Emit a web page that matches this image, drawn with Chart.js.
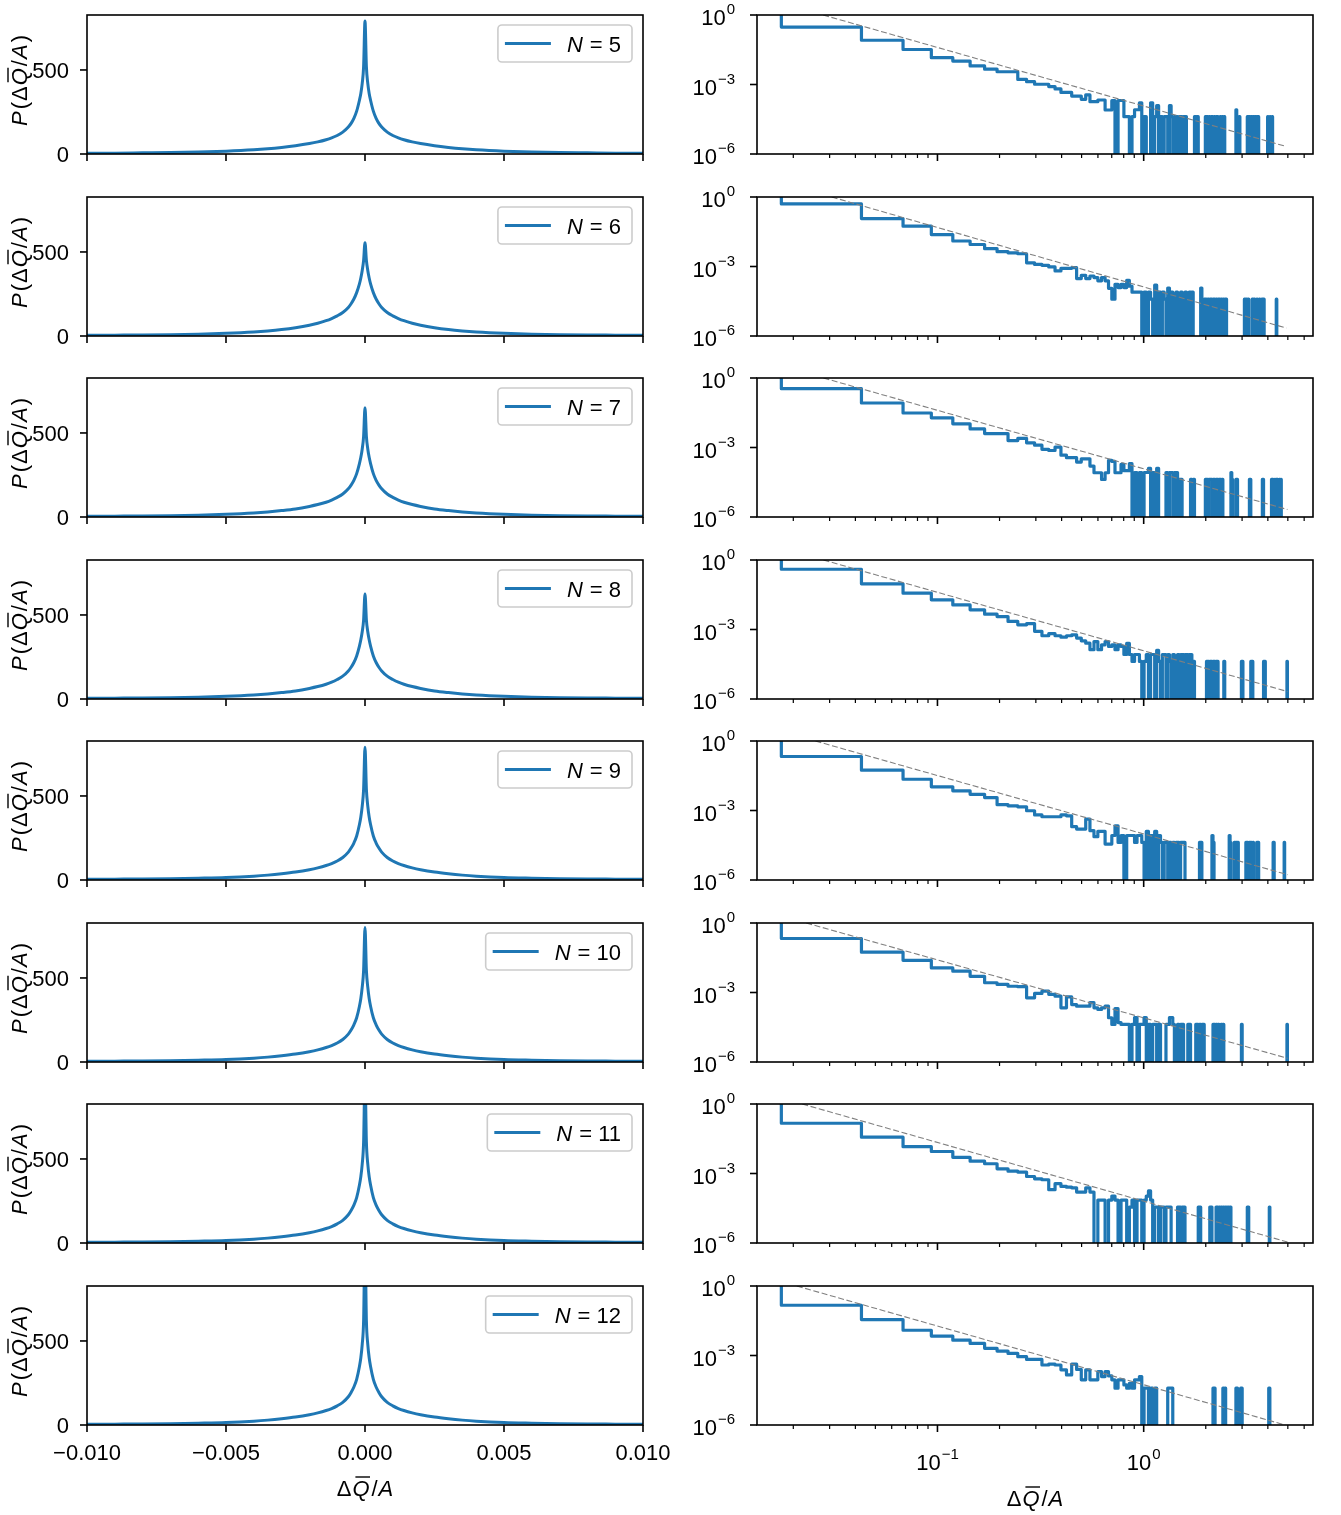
<!DOCTYPE html>
<html><head><meta charset="utf-8">
<script src="https://cdn.jsdelivr.net/npm/chart.js@4.4.1/dist/chart.umd.min.js"></script>
<style>
html,body{margin:0;padding:0;background:#fff;}
#wrap{position:relative;width:1341px;height:1515px;overflow:hidden;background:#fff;}
#wrap canvas{position:absolute;}
</style></head><body><div id="wrap"></div>
<script>
// ---------------- DATA ----------------
const nValues = [5, 6, 7, 8, 9, 10, 11, 12];

// left column: x positions of the sampled density curve
const densX = [-0.010,-0.009,-0.008,-0.007,-0.006,-0.005,-0.004,-0.0035,-0.003,-0.0025,-0.002,-0.0017,-0.0014,-0.0012,-0.001,-0.0008,-0.0006,-0.0005,-0.0004,-0.0003,-0.0002,-0.00015,-0.0001,-0.00005,0,
  0.00005,0.0001,0.00015,0.0002,0.0003,0.0004,0.0005,0.0006,0.0008,0.001,0.0012,0.0014,0.0017,0.002,0.0025,0.003,0.0035,0.004,0.005,0.006,0.007,0.008,0.009,0.010];
const densN5  = [4,5,7,9,12,17,25,31,39,49,62,72,85,96,110,130,160,182,212,255,320,360,420,520,792,520,420,360,320,255,212,182,160,130,110,96,85,72,62,49,39,31,25,17,12,9,7,5,4];
const densN6  = [4,5,6,8,11,16,24,30,38,49,64,76,91,104,120,140,170,192,220,258,310,345,390,450,555,450,390,345,310,258,220,192,170,140,120,104,91,76,64,49,38,30,24,16,11,8,6,5,4];
const densN7  = [4,5,6,8,11,16,24,30,38,48,63,74,88,101,117,137,168,190,218,258,318,355,405,480,650,480,405,355,318,258,218,190,168,137,117,101,88,74,63,48,38,30,24,16,11,8,6,5,4];
const densN8  = [4,5,6,8,11,16,24,30,38,48,63,74,88,100,116,136,167,189,217,256,315,352,400,470,625,470,400,352,315,256,217,189,167,136,116,100,88,74,63,48,38,30,24,16,11,8,6,5,4];
const densN9  = [4,5,6,8,11,15,23,29,37,47,61,72,86,98,113,134,166,190,220,262,330,375,440,540,790,540,440,375,330,262,220,190,166,134,113,98,86,72,61,47,37,29,23,15,11,8,6,5,4];
const densN10 = [4,5,6,8,11,15,23,29,37,47,61,72,86,98,113,134,166,190,221,263,332,378,445,545,800,545,445,378,332,263,221,190,166,134,113,98,86,72,61,47,37,29,23,15,11,8,6,5,4];
const densN11 = [4,5,6,8,11,15,23,29,37,47,61,72,86,98,114,135,168,193,225,270,345,395,470,600,1000,600,470,395,345,270,225,193,168,135,114,98,86,72,61,47,37,29,23,15,11,8,6,5,4];
const densN12 = [4,5,6,8,11,15,23,29,37,47,61,72,86,98,114,135,168,194,226,272,348,400,480,620,1100,620,480,400,348,272,226,194,168,135,114,98,86,72,61,47,37,29,23,15,11,8,6,5,4];

// right column: linear histogram bins (read from the step positions)
const binStart = 0.0175;
const binWidth = 0.0253;
const lastBin = 197;
// log10 of the density for bins 0,1,2,... (bin 0 lies above the frame)
const headN5  = [0.5,-0.52,-1.09,-1.49,-1.84,-1.99,-2.2,-2.34,-2.45,-2.45,-2.78,-2.88,-2.99,-2.99,-3.09,-3.19,-3.34,-3.34,-3.5,-3.5,-3.64,-3.45,-3.74,-3.74,-3.67,-3.67,-4.1,-4.1,-3.7];
const headN6  = [0.5,-0.30,-0.93,-1.26,-1.62,-1.9,-2.05,-2.23,-2.36,-2.41,-2.45,-2.84,-2.91,-2.95,-3.02,-3.19,-3.08,-3.08,-3.05,-3.52,-3.38,-3.52,-3.41,-3.48,-3.62,-3.48,-3.62,-3.94,-4.41,-3.77,-3.91,-3.77,-3.91,-3.6,-3.85,-4.11,-4.11,-4.11,-4.11];
const headN7  = [0.5,-0.46,-1.08,-1.51,-1.72,-1.98,-2.2,-2.4,-2.4,-2.7,-2.61,-2.8,-2.9,-3.08,-3.13,-2.98,-3.33,-3.44,-3.44,-3.63,-3.49,-3.49,-3.8,-4.09,-4.09,-4.38,-4.09,-3.56,-3.6,-4.09,-4.09,-3.73,-4.0,-4.0,-3.7];
const headN8  = [0.5,-0.40,-1.03,-1.43,-1.72,-1.94,-2.15,-2.34,-2.44,-2.65,-2.8,-2.75,-3.08,-3.27,-3.18,-3.27,-3.33,-3.27,-3.23,-3.37,-3.49,-3.59,-3.87,-3.52,-3.87,-3.66,-3.52,-3.73,-3.66,-3.87,-3.66,-3.73,-4.08,-3.6,-4.08,-4.38,-4.08,-4.08,-4.38];
const headN9  = [0.5,-0.67,-1.26,-1.65,-1.98,-2.15,-2.3,-2.44,-2.75,-2.8,-2.84,-3.01,-3.19,-3.27,-3.27,-3.27,-3.19,-3.23,-3.7,-3.8,-3.8,-3.37,-3.87,-4.13,-3.9,-3.9,-4.45,-4.45,-4.08,-3.66,-4.38,-4.08];
const headN10 = [0.5,-0.67,-1.26,-1.61,-1.94,-2.08,-2.3,-2.58,-2.65,-2.73,-2.75,-3.23,-3.04,-2.94,-3.08,-3.16,-3.66,-3.19,-3.52,-3.59,-3.59,-3.59,-3.44,-3.66,-3.73,-3.66,-3.59,-4.09,-4.38,-3.7,-4.3,-4.38,-4.38,-4.38];
const headN11 = [0.5,-0.83,-1.43,-1.84,-2.05,-2.3,-2.47,-2.58,-2.8,-2.9,-2.94,-3.13,-3.23,-3.27,-3.7,-3.44,-3.56,-3.59,-3.62,-3.8,-3.8,-3.62,-3.8];
const headN12 = [0.5,-0.83,-1.45,-1.91,-2.16,-2.34,-2.48,-2.69,-2.81,-2.91,-3.05,-3.17,-3.17,-3.41,-3.37,-3.41,-3.62,-3.84,-3.37,-3.6,-4.05,-3.62,-4.05,-4.05,-3.7,-3.91,-3.7,-3.88,-4.05,-4.41,-4.05,-4.05,-4.27,-4.41,-4.2,-4.41,-4.05,-4.05,-3.91];
// log10 density of a single count
const oneCount = [-4.39, -4.41, -4.38, -4.38, -4.38, -4.38, -4.45, -4.41];
// sparse tail: [bin index, count]; all other tail bins are empty
const spikesN5  = [[30,5],[31,5],[32,1],[33,1],[35,1],[36,2],[37,2],[38,4],[40,1],[43,4],[45,1],[46,3],[48,1],[50,1],[51,1],[53,3],[54,1],[56,1],[57,1],[59,1],[60,1],[62,1],[63,1],[70,1],[72,1],[79,1],[80,1],[82,1],[84,1],[85,1],[87,1],[89,1],[90,1],[93,1],[95,1],[97,1],[111,2],[113,1],[115,1],[126,1],[128,1],[131,1],[134,1],[137,1],[140,1],[142,1],[158,1],[162,1],[166,1]];
const spikesN6  = [[40,2],[42,2],[43,1],[45,4],[47,2],[49,2],[50,1],[52,3],[54,2],[56,1],[57,2],[60,2],[61,1],[63,2],[66,2],[68,2],[75,3],[76,1],[78,1],[79,1],[81,1],[83,1],[84,1],[86,1],[87,1],[89,1],[91,1],[92,1],[94,1],[96,1],[98,1],[99,1],[122,1],[124,1],[127,1],[133,1],[136,1],[140,1],[144,1],[148,1],[151,1],[174,1]];
const spikesN7  = [[36,2],[38,2],[40,2],[41,2],[42,3],[44,2],[46,3],[51,2],[53,2],[54,2],[56,2],[57,2],[59,1],[60,1],[67,1],[69,1],[79,1],[80,1],[82,1],[83,1],[84,1],[86,1],[87,1],[89,1],[90,1],[92,1],[93,1],[95,1],[105,2],[106,1],[111,1],[112,1],[129,1],[130,1],[149,1],[150,1],[165,1],[167,1],[171,1],[174,1],[176,1],[180,1],[183,1]];
const spikesN8  = [[40,1],[41,2],[43,2],[44,2],[46,3],[47,1],[49,2],[50,2],[52,2],[53,1],[55,2],[57,1],[58,2],[60,2],[61,2],[63,2],[64,2],[66,2],[67,2],[69,1],[80,1],[81,1],[83,1],[84,1],[86,1],[87,1],[89,1],[90,1],[97,1],[118,1],[119,1],[131,1],[133,1],[151,1],[153,1],[196,1]];
const spikesN9  = [[33,2],[34,2],[35,2],[36,1],[37,2],[38,2],[39,1],[41,3],[43,2],[45,3],[47,2],[48,1],[50,1],[51,1],[53,1],[55,1],[57,1],[58,1],[60,1],[61,1],[62,1],[74,1],[75,1],[85,2],[86,1],[103,2],[104,1],[109,1],[111,1],[113,1],[124,1],[126,1],[129,1],[131,1],[134,1],[140,1],[142,1],[168,1],[169,1],[190,1]];
const spikesN10 = [[35,1],[36,2],[38,1],[39,1],[40,2],[42,1],[44,1],[45,1],[47,1],[51,1],[52,1],[53,2],[54,2],[55,1],[58,1],[60,1],[61,1],[65,1],[66,1],[71,1],[72,1],[74,1],[76,1],[77,1],[86,1],[87,1],[89,1],[91,1],[94,1],[96,1],[118,1],[196,1]];
const spikesN11 = [[24,2],[25,2],[27,2],[28,3],[29,2],[31,2],[32,2],[34,1],[35,2],[37,2],[38,2],[40,2],[41,3],[42,5],[43,2],[45,1],[46,1],[48,1],[49,1],[51,1],[52,1],[53,1],[58,1],[59,1],[61,1],[62,1],[73,1],[74,1],[83,1],[84,1],[89,1],[90,1],[92,1],[94,1],[96,1],[98,1],[100,1],[102,1],[104,1],[126,1],[127,1],[161,1]];
const spikesN12 = [[40,1],[41,1],[43,1],[45,1],[52,1],[53,1],[54,1],[86,1],[87,1],[96,1],[98,1],[111,1],[112,1],[117,1],[118,1],[160,1],[161,1]];
// dashed power-law guide: [x, y] end points
const fitN5  = [[0.0279,1],[4.92,2.1e-6]];
const fitN6  = [[0.0307,1],[4.92,2.2e-6]];
const fitN7  = [[0.0280,1],[4.98,2.1e-6]];
const fitN8  = [[0.0280,1],[4.98,2.1e-6]];
const fitN9  = [[0.0256,1],[4.98,1.7e-6]];
const fitN10 = [[0.0231,1],[4.98,1.45e-6]];
const fitN11 = [[0.0221,1],[4.98,1.1e-6]];
const fitN12 = [[0.0208,1],[4.85,1.0e-6]];

// tick values / labels
const leftXTicks = [-0.010, -0.005, 0, 0.005, 0.010];
const leftXTickLabels = ['\u22120.010', '\u22120.005', '0.000', '0.005', '0.010'];
const leftYTicks = [0, 500];
const leftYTickLabels = ['0', '500'];
const rightXMajor = [0.1, 1];
const rightXMajorExp = ['\u22121', '0'];
const rightXMinor = [0.02,0.03,0.04,0.05,0.06,0.07,0.08,0.09,0.2,0.3,0.4,0.5,0.6,0.7,0.8,0.9,2,3,4,5,6];
const rightYMajor = [1, 1e-3, 1e-6];
const rightYMajorExp = ['0', '\u22123', '\u22126'];

const densAll = [densN5, densN6, densN7, densN8, densN9, densN10, densN11, densN12];
const headAll = [headN5, headN6, headN7, headN8, headN9, headN10, headN11, headN12];
const spikesAll = [spikesN5, spikesN6, spikesN7, spikesN8, spikesN9, spikesN10, spikesN11, spikesN12];
const fitAll = [fitN5, fitN6, fitN7, fitN8, fitN9, fitN10, fitN11, fitN12];

// ---------------- LAYOUT / STYLE ----------------
const BLUE = '#1f77b4';
const FONT = '"Liberation Sans", Arial, Helvetica, sans-serif';
const FS = 22;
const rowTops = [15, 197, 378, 560, 741, 923, 1104, 1286];
const plotH = 139;
const L = {left: 87, right: 643};
const R = {left: 757, right: 1313};
const leftYMax = 827;
const rightXMin = Math.pow(10, -1.875), rightXMax = Math.pow(10, 0.821);

function font(r) { return (r.it ? 'italic ' : '') + (r.sz || FS) + 'px ' + FONT; }
function runsWidth(ctx, runs) {
  let w = 0;
  for (const r of runs) { ctx.font = font(r); w += ctx.measureText(r.t).width + (r.sp || 0); }
  return w;
}
function drawRuns(ctx, runs, x, y, align) {
  const w = runsWidth(ctx, runs);
  let cx = align === 'center' ? x - w / 2 : (align === 'right' ? x - w : x);
  ctx.textAlign = 'left'; ctx.textBaseline = 'alphabetic';
  for (const r of runs) {
    ctx.font = font(r);
    const tw = ctx.measureText(r.t).width;
    ctx.fillText(r.t, cx, y + (r.dy || 0));
    if (r.over) {
      ctx.save(); ctx.lineWidth = 1.4; ctx.strokeStyle = ctx.fillStyle;
      ctx.beginPath(); ctx.moveTo(cx + 3, y - r.over); ctx.lineTo(cx + tw + 0.5, y - r.over); ctx.stroke();
      ctx.restore();
    }
    cx += tw + (r.sp || 0);
  }
  return w;
}
const pLabelRuns = [{t:'P',it:1,sp:2},{t:'(',sp:1},{t:'\u0394',sp:1},{t:'Q',it:1,over:19,sp:2},{t:'/',sp:1},{t:'A',it:1,sp:2},{t:')'}];
const xTitleRuns = [{t:'\u0394',sp:1},{t:'Q',it:1,over:19,sp:2},{t:'/',sp:1},{t:'A',it:1}];
function powRuns(e) { return [{t:'10',sp:1},{t:e, sz:15, dy:-11}]; }

const deco = {
  id: 'deco',
  afterDatasetsDraw(chart, args, o) {
    const ctx = chart.ctx, a = chart.chartArea, xs = chart.scales.x, ys = chart.scales.y;
    ctx.save();
    ctx.strokeStyle = '#000'; ctx.fillStyle = '#000';
    // ticks
    for (const t of o.xTicks) {
      const px = xs.getPixelForValue(t.v);
      const len = t.minor ? 4 : 7;
      ctx.lineWidth = t.minor ? 1.2 : 1.6;
      ctx.beginPath(); ctx.moveTo(px, a.bottom); ctx.lineTo(px, a.bottom + len); ctx.stroke();
      if (o.showXLabels && t.label) {
        ctx.font = font({}); ctx.textAlign = 'center'; ctx.textBaseline = 'alphabetic';
        ctx.fillText(t.label, px, a.bottom + 35);
      }
      if (o.showXLabels && t.exp) drawRuns(ctx, powRuns(t.exp), px, a.bottom + 45, 'center');
    }
    for (const t of o.yTicks) {
      const py = ys.getPixelForValue(t.v);
      ctx.lineWidth = 1.6;
      ctx.beginPath(); ctx.moveTo(a.left, py); ctx.lineTo(a.left - 7, py); ctx.stroke();
      if (t.label) {
        ctx.font = font({}); ctx.textAlign = 'right'; ctx.textBaseline = 'alphabetic';
        ctx.fillText(t.label, a.left - 18, py + 8);
      }
      if (t.exp) drawRuns(ctx, powRuns(t.exp), a.left - 22, py + 10, 'right');
    }
    // frame
    ctx.lineWidth = 1.6;
    ctx.strokeRect(a.left, a.top, a.right - a.left, a.bottom - a.top);
    // y title
    if (o.yTitle) {
      ctx.save();
      ctx.translate(27, (a.top + a.bottom) / 2 - 4);
      ctx.rotate(-Math.PI / 2);
      drawRuns(ctx, pLabelRuns, 0, 0, 'center');
      ctx.restore();
    }
    // x title
    if (o.xTitle) drawRuns(ctx, xTitleRuns, (a.left + a.right) / 2, o.xTitleY, 'center');
    // legend
    if (o.legend) {
      const runs = [{t:'N',it:1,sp:7},{t:'= ' + o.legend}];
      const tw = runsWidth(ctx, runs);
      const bw = 7 + 46 + 16 + tw + 11, bh = 37;
      const bx = a.right - 11 - bw, by = a.top + 10;
      ctx.save();
      ctx.beginPath();
      if (ctx.roundRect) ctx.roundRect(bx, by, bw, bh, 4); else ctx.rect(bx, by, bw, bh);
      ctx.fillStyle = 'rgba(255,255,255,0.8)'; ctx.fill();
      ctx.lineWidth = 1.6; ctx.strokeStyle = '#cccccc'; ctx.stroke();
      ctx.restore();
      ctx.save();
      ctx.strokeStyle = BLUE; ctx.lineWidth = 3; ctx.lineCap = 'butt';
      ctx.beginPath(); ctx.moveTo(bx + 7, by + bh / 2); ctx.lineTo(bx + 53, by + bh / 2); ctx.stroke();
      ctx.restore();
      drawRuns(ctx, runs, bx + 69, by + bh / 2 + 8, 'left');
    }
    ctx.restore();
  }
};

const wrap = document.getElementById('wrap');
function makeCanvas(left, top, w, h) {
  const c = document.createElement('canvas');
  c.width = w; c.height = h;
  c.style.left = left + 'px'; c.style.top = top + 'px';
  c.style.width = w + 'px'; c.style.height = h + 'px';
  wrap.appendChild(c);
  return c;
}

function histPoints(i) {
  const head = headAll[i];
  const counts = new Map(spikesAll[i].map(s => [s[0], s[1]]));
  const pts = [];
  for (let k = 0; k <= lastBin; k++) {
    const x = binStart + binWidth * k;
    let y;
    if (k < head.length) y = Math.pow(10, head[k]);
    else if (counts.has(k)) y = counts.get(k) * Math.pow(10, oneCount[i]);
    else y = 1e-12; // empty bin: off the bottom of the log axis
    pts.push({x, y});
  }
  return pts;
}

nValues.forEach((n, i) => {
  const top = rowTops[i] - 15;
  const last = i === nValues.length - 1;
  const h = last ? 1515 - top : rowTops[i + 1] - rowTops[i];
  // ---- left panel
  const cl = makeCanvas(0, top, 680, h);
  new Chart(cl, {
    type: 'line',
    data: { datasets: [{
      data: densX.map((x, j) => ({x, y: densAll[i][j]})),
      borderColor: BLUE, borderWidth: 3, pointRadius: 0, fill: false,
      cubicInterpolationMode: 'monotone', borderJoinStyle: 'round', clip: 0
    }]},
    options: {
      responsive: false, animation: false, events: [],
      layout: { padding: { left: L.left, right: 680 - L.right, top: 15, bottom: h - 15 - plotH } },
      scales: {
        x: { type: 'linear', min: -0.01, max: 0.01, display: false },
        y: { type: 'linear', min: 0, max: leftYMax, display: false }
      },
      plugins: {
        legend: { display: false }, tooltip: { enabled: false },
        deco: {
          xTicks: leftXTicks.map((v, j) => ({v, label: leftXTickLabels[j]})),
          yTicks: leftYTicks.map((v, j) => ({v, label: leftYTickLabels[j]})),
          showXLabels: last, yTitle: true, legend: String(n),
          xTitle: last, xTitleY: rowTops[i] - top + plotH + 71
        }
      }
    },
    plugins: [deco]
  });
  // ---- right panel
  const cr = makeCanvas(680, top, 661, h);
  const fit = fitAll[i];
  new Chart(cr, {
    type: 'line',
    data: { datasets: [
      { data: fit.map(p => ({x: p[0], y: p[1]})), borderColor: '#808080', borderWidth: 1.1,
        borderDash: [6, 2.6], pointRadius: 0, fill: false, clip: 0 },
      { data: histPoints(i), borderColor: BLUE, borderWidth: 3.2, pointRadius: 0, fill: false,
        stepped: 'after', borderJoinStyle: 'round', clip: 0 }
    ]},
    options: {
      responsive: false, animation: false, events: [],
      layout: { padding: { left: R.left - 680, right: 1341 - R.right, top: 15, bottom: h - 15 - plotH } },
      scales: {
        x: { type: 'logarithmic', min: rightXMin, max: rightXMax, display: false },
        y: { type: 'logarithmic', min: 1e-6, max: 1, display: false }
      },
      plugins: {
        legend: { display: false }, tooltip: { enabled: false },
        deco: {
          xTicks: rightXMajor.map((v, j) => ({v, exp: rightXMajorExp[j]})).concat(rightXMinor.map(v => ({v, minor: true}))),
          yTicks: rightYMajor.map((v, j) => ({v, exp: rightYMajorExp[j]})),
          showXLabels: last, yTitle: false, legend: null,
          xTitle: last, xTitleY: rowTops[i] - top + plotH + 81
        }
      }
    },
    plugins: [deco]
  });
});
</script></body></html>
